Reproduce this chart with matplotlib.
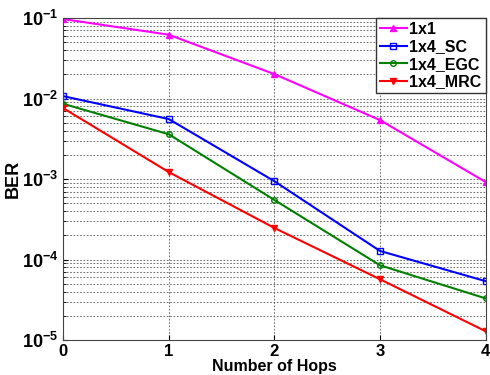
import matplotlib
matplotlib.use("Agg")
import matplotlib.pyplot as plt
from matplotlib.ticker import LogLocator, LogFormatterMathtext

plt.rcParams["font.family"] = ["Liberation Sans", "DejaVu Sans"]
plt.rcParams["font.weight"] = "bold"
plt.rcParams["mathtext.default"] = "bf"

hops = [0, 1, 2, 3, 4]
ber_1x1 = [0.097, 0.062, 0.0201, 0.0054, 0.00092]
ber_sc = [0.0107, 0.00556, 0.00094, 0.000128, 5.4e-5]
ber_egc = [0.0086, 0.0036, 0.00055, 8.5e-5, 3.3e-5]
ber_mrc = [0.0076, 0.00122, 0.000247, 5.7e-5, 1.29e-5]

fig = plt.figure(figsize=(4.9, 3.75), dpi=100)
ax = fig.add_axes([0.129, 0.093, 0.862, 0.859])

ax.semilogy(hops, ber_1x1, "-^", color="#ff00ff", mfc="#ff00ff", ms=5, lw=1.5, label="1x1")
ax.semilogy(hops, ber_sc, "-s", color="#0000ff", mfc="none", ms=5, lw=1.5, label="1x4_SC")
ax.semilogy(hops, ber_egc, "-o", color="#008000", mfc="none", ms=4, lw=1.5, label="1x4_EGC")
ax.semilogy(hops, ber_mrc, "-v", color="#ff0000", mfc="#ff0000", ms=5, lw=1.5, label="1x4_MRC")

ax.set_xlim(0, 4)
ax.set_ylim(1e-5, 1e-1)
ax.set_xticks(hops)
ax.yaxis.set_major_locator(LogLocator(base=10, numticks=10))
ax.yaxis.set_minor_locator(LogLocator(base=10, subs=range(2, 10), numticks=20))
ax.yaxis.set_major_formatter(LogFormatterMathtext())
ax.grid(True, which="both", color="#555555", ls=(0, (2, 2)), lw=0.6)
ax.tick_params(which="both", direction="in", labelsize=13)
ax.tick_params(which="minor", length=2)
ax.tick_params(axis="x", labelsize=12, pad=3)
for s in ax.spines.values():
    s.set_color("#444444")

ax.set_xlabel("Number of Hops", fontsize=11.5, fontweight="bold", labelpad=0)
ax.set_ylabel("BER", fontsize=13, fontweight="bold", labelpad=0)

leg = ax.legend(loc="upper right", fontsize=11.5, handlelength=1.7, handletextpad=0.15,
                borderaxespad=0, borderpad=0.25, labelspacing=0.15, fancybox=False)
leg.get_frame().set_edgecolor("#333333")
leg.get_frame().set_alpha(1)

fig.savefig("out.png", dpi=100)
